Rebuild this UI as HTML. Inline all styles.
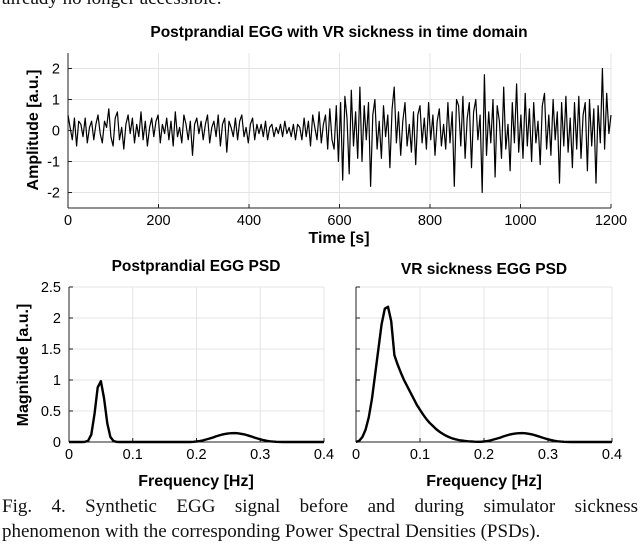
<!DOCTYPE html>
<html><head><meta charset="utf-8">
<style>
body{margin:0;background:#fff;width:640px;height:543px;overflow:hidden;position:relative;font-family:"Liberation Sans",sans-serif}
svg{position:absolute;left:0;top:0}
.cap{position:absolute;left:2px;width:636px;font-family:"Liberation Serif",serif;font-size:19px;color:#111;text-align:justify;text-align-last:justify;line-height:25px}
</style></head><body>
<div class="cap" style="top:-14px;text-align-last:left">already no longer accessible.</div>
<svg width="640" height="543" id="chart"></svg>
<div class="cap" style="top:494px">Fig. 4. Synthetic EGG signal before and during simulator sickness</div>
<div class="cap" style="top:519px;text-align-last:left">phenomenon with the corresponding Power Spectral Densities (PSDs).</div>
<script>
const timeSpan = 1200;
const amplitudeBefore = [0.5,0.1,-0.3,0.4,-0.5,0.3,0.2,-0.2,0.4,-0.4,
0.1,0.3,-0.3,0.2,0.5,-0.1,-0.4,0.3,0.1,0.7,
-0.2,-0.5,0.4,0.6,-0.3,0.1,-0.6,0.2,0.5,-0.1,
0.4,-0.4,0.2,-0.2,0.6,-0.3,0.3,-0.5,0.1,0.4,
-0.2,0.3,0.5,-0.4,0.2,-0.1,0.4,-0.3,0.3,-0.5,
0.6,-0.2,0.1,-0.4,0.5,0.2,-0.3,0.3,-0.8,0.2,
0.4,-0.1,0.3,-0.3,0.2,0.5,-0.4,0.1,0.3,-0.2,
0.5,-0.5,0.2,0.4,-0.7,0.3,0.1,-0.2,0.4,-0.3,
0.3,0.5,-0.2,0.1,-0.4,0.2,0.4,-0.3,0.2,-0.1,
0.2,-0.2,0.3,-0.3,0.1,0.2,-0.2,0.1,-0.1,0.2,
-0.2,0.3,-0.1,0.1,-0.2,0.2,-0.3,0.2,0.1,-0.3,
0.4,-0.2,0.3,-0.5,0.5,0.1,-0.3,0.6,-0.4,0.2,
0.5,-0.6,0.7,-0.3];
const amplitudeDuring = [-0.6,0.8,-1.0,0.9,-1.6,1.1,0.4,-1.4,1.3,-0.5,0.6,-0.9,1.4,-1.0,0.8,-0.3,0.9,-1.8,0.5,1.0,-0.6,0.3,-0.9,0.8,-0.2,0.5,-1.2,0.7,1.4,-0.4,0.6,-0.8,0.3,0.9,-0.5,0.2,-0.7,0.6,-1.1,0.5,0.8,-0.4,0.4,-0.6,0.9,-0.3,0.5,-0.8,0.3,0.7,-0.5,0.2,-0.6,0.9,-0.4,0.6,-1.8,1.0,0.8,-0.5,1.1,-0.9,0.4,0.9,-1.2,0.6,1.0,-0.3,0.5,-2.0,1.8,-0.8,0.6,-0.4,1.0,-1.5,0.8,0.3,-0.9,1.4,-0.6,0.2,-1.3,0.9,-0.4,1.5,-0.7,0.5,-0.9,1.2,-0.5,0.7,-1.0,0.9,-0.4,0.3,-1.1,0.8,1.2,-0.6,0.5,-0.8,1.0,-0.3,0.6,-1.7,0.9,-0.5,1.1,-0.7,0.4,-1.2,0.9,-0.6,1.1,-0.9,0.5,0.9,-1.3,1.0,-0.5,0.7,-1.7,0.8,-0.4,2.0,-0.6,1.2,-0.1,0.5];
const amplitude = amplitudeBefore.concat(amplitudeDuring);
const freqStep = 0.005;
const psdPost = [0,0,0,0,0,0.002,0.02,0.12,0.45,0.88,0.98,0.7,0.3,0.08,0.015,0.002,0,0,0,0,0,0,0,0,0,0,0,0,0,0,0,0,0,0,0,0,0,0,0,0.003,0.008,0.015,0.025,0.04,0.055,0.07,0.088,0.105,0.12,0.13,0.138,0.142,0.143,0.14,0.133,0.122,0.108,0.092,0.075,0.058,0.043,0.03,0.02,0.012,0.007,0.004,0.002,0,0,0,0,0,0,0,0,0,0,0,0,0,0];
const psdVR = [0,0.02,0.08,0.2,0.4,0.7,1.1,1.5,1.9,2.15,2.18,1.95,1.4,1.25,1.12,1.0,0.9,0.8,0.7,0.6,0.52,0.44,0.37,0.31,0.26,0.21,0.17,0.135,0.105,0.08,0.06,0.045,0.033,0.024,0.017,0.012,0.008,0.005,0.004,0.004,0.008,0.015,0.025,0.04,0.055,0.07,0.088,0.105,0.12,0.13,0.138,0.142,0.143,0.14,0.133,0.122,0.108,0.092,0.075,0.058,0.043,0.03,0.02,0.012,0.007,0.004,0.002,0,0,0,0,0,0,0,0,0,0,0,0,0,0];
const timeTicks = [0,200,400,600,800,1000,1200];
const ampTicks = [-2,-1,0,1,2];
const freqTicks = [0,0.1,0.2,0.3,0.4];
const freqTickLabels = ["0","0.1","0.2","0.3","0.4"];
const magTicks = [0,0.5,1,1.5,2,2.5];
const magTickLabels = ["0","0.5","1","1.5","2","2.5"];

const svg = document.getElementById('chart');
const NS = 'http://www.w3.org/2000/svg';
function mk(tag, attrs, parent){const e=document.createElementNS(NS,tag);for(const k in attrs)e.setAttribute(k,attrs[k]);(parent||svg).appendChild(e);return e;}
function txt(x,y,s,size,weight,anchor,parent,rot){const t=mk('text',{x:x,y:y,'font-size':size,'font-weight':weight,'text-anchor':anchor||'middle',fill:'#000','font-family':'Liberation Sans, sans-serif'},parent);if(rot)t.setAttribute('transform',`rotate(-90 ${x} ${y})`);t.textContent=s;return t;}

function axes(o){
  const g=mk('g',{});
  
  
  const sx=v=>o.x0+(v-o.xmin)/(o.xmax-o.xmin)*(o.x1-o.x0);
  const sy=v=>o.y1-(v-o.ymin)/(o.ymax-o.ymin)*(o.y1-o.y0);
  o.xt.forEach(v=>mk('line',{x1:sx(v),x2:sx(v),y1:o.y0,y2:o.y1,stroke:'#e4e4e4','stroke-width':1},g));
  o.yt.forEach(v=>mk('line',{x1:o.x0,x2:o.x1,y1:sy(v),y2:sy(v),stroke:'#e4e4e4','stroke-width':1},g));
  mk('line',{x1:o.x0,x2:o.x1,y1:o.y1,y2:o.y1,stroke:'#222','stroke-width':1},g);
  mk('line',{x1:o.x0,x2:o.x0,y1:o.y0,y2:o.y1,stroke:'#222','stroke-width':1},g);
  o.xt.forEach((v,i)=>{mk('line',{x1:sx(v),x2:sx(v),y1:o.y1,y2:o.y1-4,stroke:'#222'},g);
    const t=txt(sx(v),o.y1+17,o.xl?o.xl[i]:String(v),14.5,'normal','middle',g);
    });
  o.yt.forEach((v,i)=>{mk('line',{x1:o.x0,x2:o.x0+4,y1:sy(v),y2:sy(v),stroke:'#222'},g);
    if(o.ylabels){const t=txt(o.x0-8,sy(v)+5,o.yl?o.yl[i]:String(v),14.5,'normal','end',g);
    }});
  const step=o.step!==undefined?o.step:(o.xmax-o.xmin)/(o.data.length-1);
  let d='';o.data.forEach((v,i)=>{d+=(i?'L':'M')+sx(i*step).toFixed(1)+','+sy(v).toFixed(1);});
  const p=mk('path',{d:d,fill:'none',stroke:'#000','stroke-width':o.sw,'stroke-linejoin':'round'},g);
  
  
  return g;
}
axes({name:'time-domain-plot',x0:68,x1:611,y0:53,y1:208,xmin:0,xmax:timeSpan,ymin:-2.5,ymax:2.5,xt:timeTicks,yt:ampTicks,ylabels:true,data:amplitude,sw:1.2});
axes({name:'postprandial-psd-plot',x0:69,x1:324,y0:287,y1:442,xmin:0,xmax:0.4,ymin:0,ymax:2.5,xt:freqTicks,xl:freqTickLabels,yt:magTicks,yl:magTickLabels,ylabels:true,data:psdPost,step:freqStep,sw:2.4});
axes({name:'vr-sickness-psd-plot',x0:356,x1:612,y0:287,y1:442,xmin:0,xmax:0.4,ymin:0,ymax:2.5,xt:freqTicks,xl:freqTickLabels,yt:magTicks,ylabels:false,data:psdVR,step:freqStep,sw:2.4});
let t;
t=txt(339,37,'Postprandial EGG with VR sickness in time domain',15.5,'bold');
t=txt(339,243,'Time [s]',16,'bold');
t=txt(38,130,'Amplitude [a.u.]',16,'bold','middle',null,true);
t=txt(196,271,'Postprandial EGG PSD',15.5,'bold');
t=txt(484,274,'VR sickness EGG PSD',15.5,'bold');
t=txt(196,486,'Frequency [Hz]',16,'bold');
t=txt(484,486,'Frequency [Hz]',16,'bold');
t=txt(28,365,'Magnitude [a.u.]',16,'bold','middle',null,true);
</script>
</body></html>
